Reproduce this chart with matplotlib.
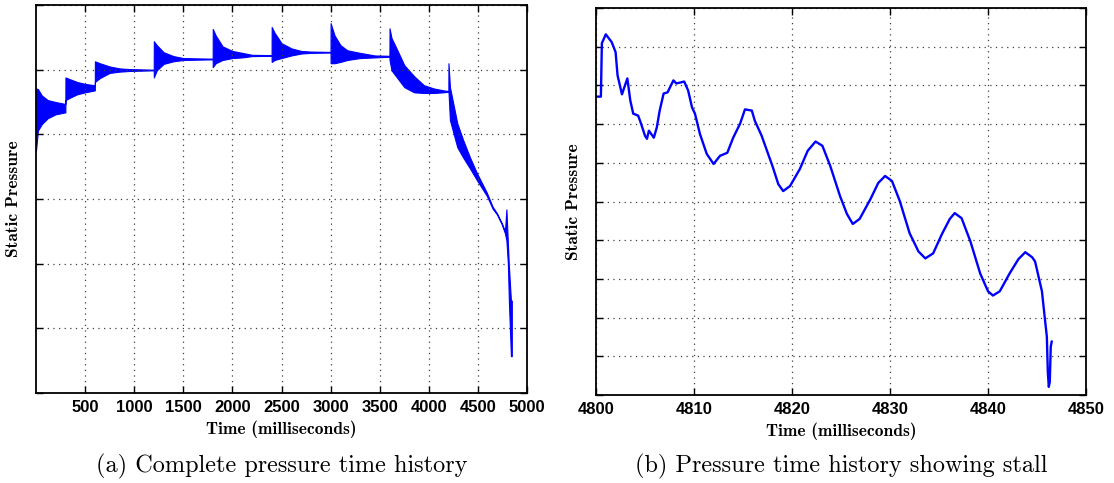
import matplotlib
matplotlib.use("Agg")
import matplotlib.pyplot as plt

# (a) complete history: upper / lower envelope of the oscillating signal
full_t = [0, 20, 60, 120, 200, 299,
          300, 350, 420, 500, 599,
          600, 650, 750, 850, 950, 1199,
          1200, 1230, 1300, 1400, 1500, 1799,
          1800, 1830, 1900, 2000, 2100, 2200, 2399,
          2400, 2430, 2500, 2600, 2700, 2800, 2999,
          3000, 3040, 3100, 3170, 3300, 3450, 3599,
          3600, 3620, 3680, 3750, 3850, 3950, 4050, 4150, 4199,
          4200, 4215, 4290, 4350, 4420, 4490, 4590, 4650, 4694, 4745, 4775,
          4790, 4805, 4815, 4836, 4845]
full_hi = [4.71, 4.70, 4.60, 4.53, 4.50, 4.47,
           4.88, 4.85, 4.81, 4.78, 4.76,
           5.13, 5.10, 5.05, 5.02, 5.01, 5.00,
           5.44, 5.38, 5.27, 5.21, 5.18, 5.17,
           5.63, 5.53, 5.36, 5.29, 5.26, 5.23, 5.225,
           5.66, 5.57, 5.41, 5.33, 5.29, 5.28, 5.275,
           5.72, 5.53, 5.38, 5.30, 5.26, 5.22, 5.215,
           5.64, 5.49, 5.30, 5.07, 4.90, 4.76, 4.71, 4.68, 4.67,
           5.10, 4.73, 4.17, 3.91, 3.64, 3.40, 3.10, 2.88, 2.78, 2.62, 2.50,
           2.84, 2.31, 1.97, 1.43, 1.43]
full_lo = [3.75, 4.06, 4.16, 4.25, 4.31, 4.34,
           4.53, 4.57, 4.62, 4.65, 4.68,
           4.81, 4.87, 4.95, 4.97, 4.98, 4.99,
           4.88, 4.99, 5.09, 5.13, 5.15, 5.16,
           5.04, 5.10, 5.15, 5.18, 5.19, 5.21, 5.215,
           5.12, 5.15, 5.18, 5.22, 5.25, 5.26, 5.265,
           5.10, 5.10, 5.12, 5.15, 5.18, 5.19, 5.20,
           5.15, 4.99, 4.87, 4.73, 4.65, 4.64, 4.64, 4.65, 4.66,
           4.67, 4.22, 3.80, 3.64, 3.47, 3.29, 3.05, 2.85, 2.76, 2.60, 2.47,
           2.36, 2.00, 1.43, 0.57, 0.57]

# (b) zoom on the stall
stall_t = [4800.0, 4800.5, 4800.6, 4801.0, 4801.6, 4802.0, 4802.2, 4802.65, 4803.2,
           4803.5, 4803.8, 4804.3, 4804.6, 4805.0, 4805.2, 4805.4, 4805.9, 4806.2,
           4806.5, 4806.9, 4807.3, 4807.9, 4808.2, 4809.0, 4809.4, 4809.8, 4810.1,
           4810.6, 4811.3, 4812.0, 4812.65, 4813.4, 4814.0, 4814.7, 4815.2, 4815.9,
           4816.2, 4816.9, 4818.0, 4818.6, 4819.1, 4819.8, 4820.8, 4821.6, 4822.4,
           4823.1, 4823.9, 4824.9, 4825.6, 4826.2, 4826.9, 4828.0, 4828.8, 4829.5,
           4830.2, 4831.0, 4832.0, 4832.9, 4833.6, 4834.4, 4835.3, 4836.1, 4836.6,
           4837.3, 4838.2, 4839.2, 4840.0, 4840.5, 4841.2, 4842.2, 4843.1, 4843.8,
           4844.5, 4844.8, 4845.5, 4845.8, 4846.0, 4846.1, 4846.2, 4846.3, 4846.4,
           4846.5]
stall_p = [7.71, 7.71, 9.09, 9.32, 9.12, 8.86, 8.26, 7.77, 8.18,
           7.61, 7.27, 7.22, 7.01, 6.70, 6.62, 6.83, 6.65, 6.91,
           7.35, 7.79, 7.82, 8.13, 8.05, 8.10, 7.87, 7.43, 7.27,
           6.75, 6.23, 5.97, 6.18, 6.26, 6.65, 7.01, 7.38, 7.35,
           7.09, 6.70, 5.92, 5.45, 5.27, 5.40, 5.84, 6.31, 6.55,
           6.44, 5.92, 5.14, 4.68, 4.42, 4.55, 5.06, 5.48, 5.66,
           5.53, 5.01, 4.18, 3.71, 3.53, 3.66, 4.16, 4.55, 4.70,
           4.57, 3.97, 3.14, 2.68, 2.57, 2.68, 3.14, 3.51, 3.69,
           3.56, 3.45, 2.68, 1.97, 1.51, 0.60, 0.21, 0.34, 1.25,
           1.38]

full_ticks = [500, 1000, 1500, 2000, 2500, 3000, 3500, 4000, 4500, 5000]
stall_ticks = [4800, 4810, 4820, 4830, 4840, 4850]

fig = plt.figure(figsize=(11.14, 4.83), dpi=100)
ax1 = fig.add_axes([0.0323, 0.1863, 0.4408, 0.8033])
ax2 = fig.add_axes([0.5350, 0.1822, 0.4399, 0.8012])

blue = (0, 0, 1)
ax1.fill_between(full_t, full_lo, full_hi, color=blue, lw=0.8)
ax2.plot(stall_t, stall_p, color=blue, lw=1.7, solid_joinstyle="round")

ax1.set_xlim(0, 5000)
ax1.set_ylim(0, 6)
ax1.set_xticks(full_ticks)
ax1.set_yticks(range(0, 7))
ax2.set_xlim(4800, 4850)
ax2.set_ylim(0, 10)
ax2.set_xticks(stall_ticks)
ax2.set_yticks(range(0, 11))

lab = dict(family="cmb10", fontsize=12.5)
for ax in (ax1, ax2):
    ax.set_yticklabels([])
    ax.grid(True, color="0.25", lw=0.9, linestyle=(0, (1, 3.5)))
    ax.tick_params(direction="in", length=5, width=1, top=True, right=True, pad=5)
    for lb in ax.get_xticklabels():
        lb.set_family("Liberation Sans")
        lb.set_fontweight("bold")
        lb.set_fontsize(12)
    for s in ax.spines.values():
        s.set_linewidth(1.3)
    ax.set_xlabel("Time (milliseconds)", labelpad=4, **lab)
    ax.set_ylabel("Static Pressure", labelpad=6, **lab)

fig.text(0.2529, 0.035, "(a) Complete pressure time history",
         family="cmr10", fontsize=17.5, ha="center", va="center")
fig.text(0.7550, 0.035, "(b) Pressure time history showing stall",
         family="cmr10", fontsize=17.5, ha="center", va="center")

fig.savefig("out.png", dpi=100)
